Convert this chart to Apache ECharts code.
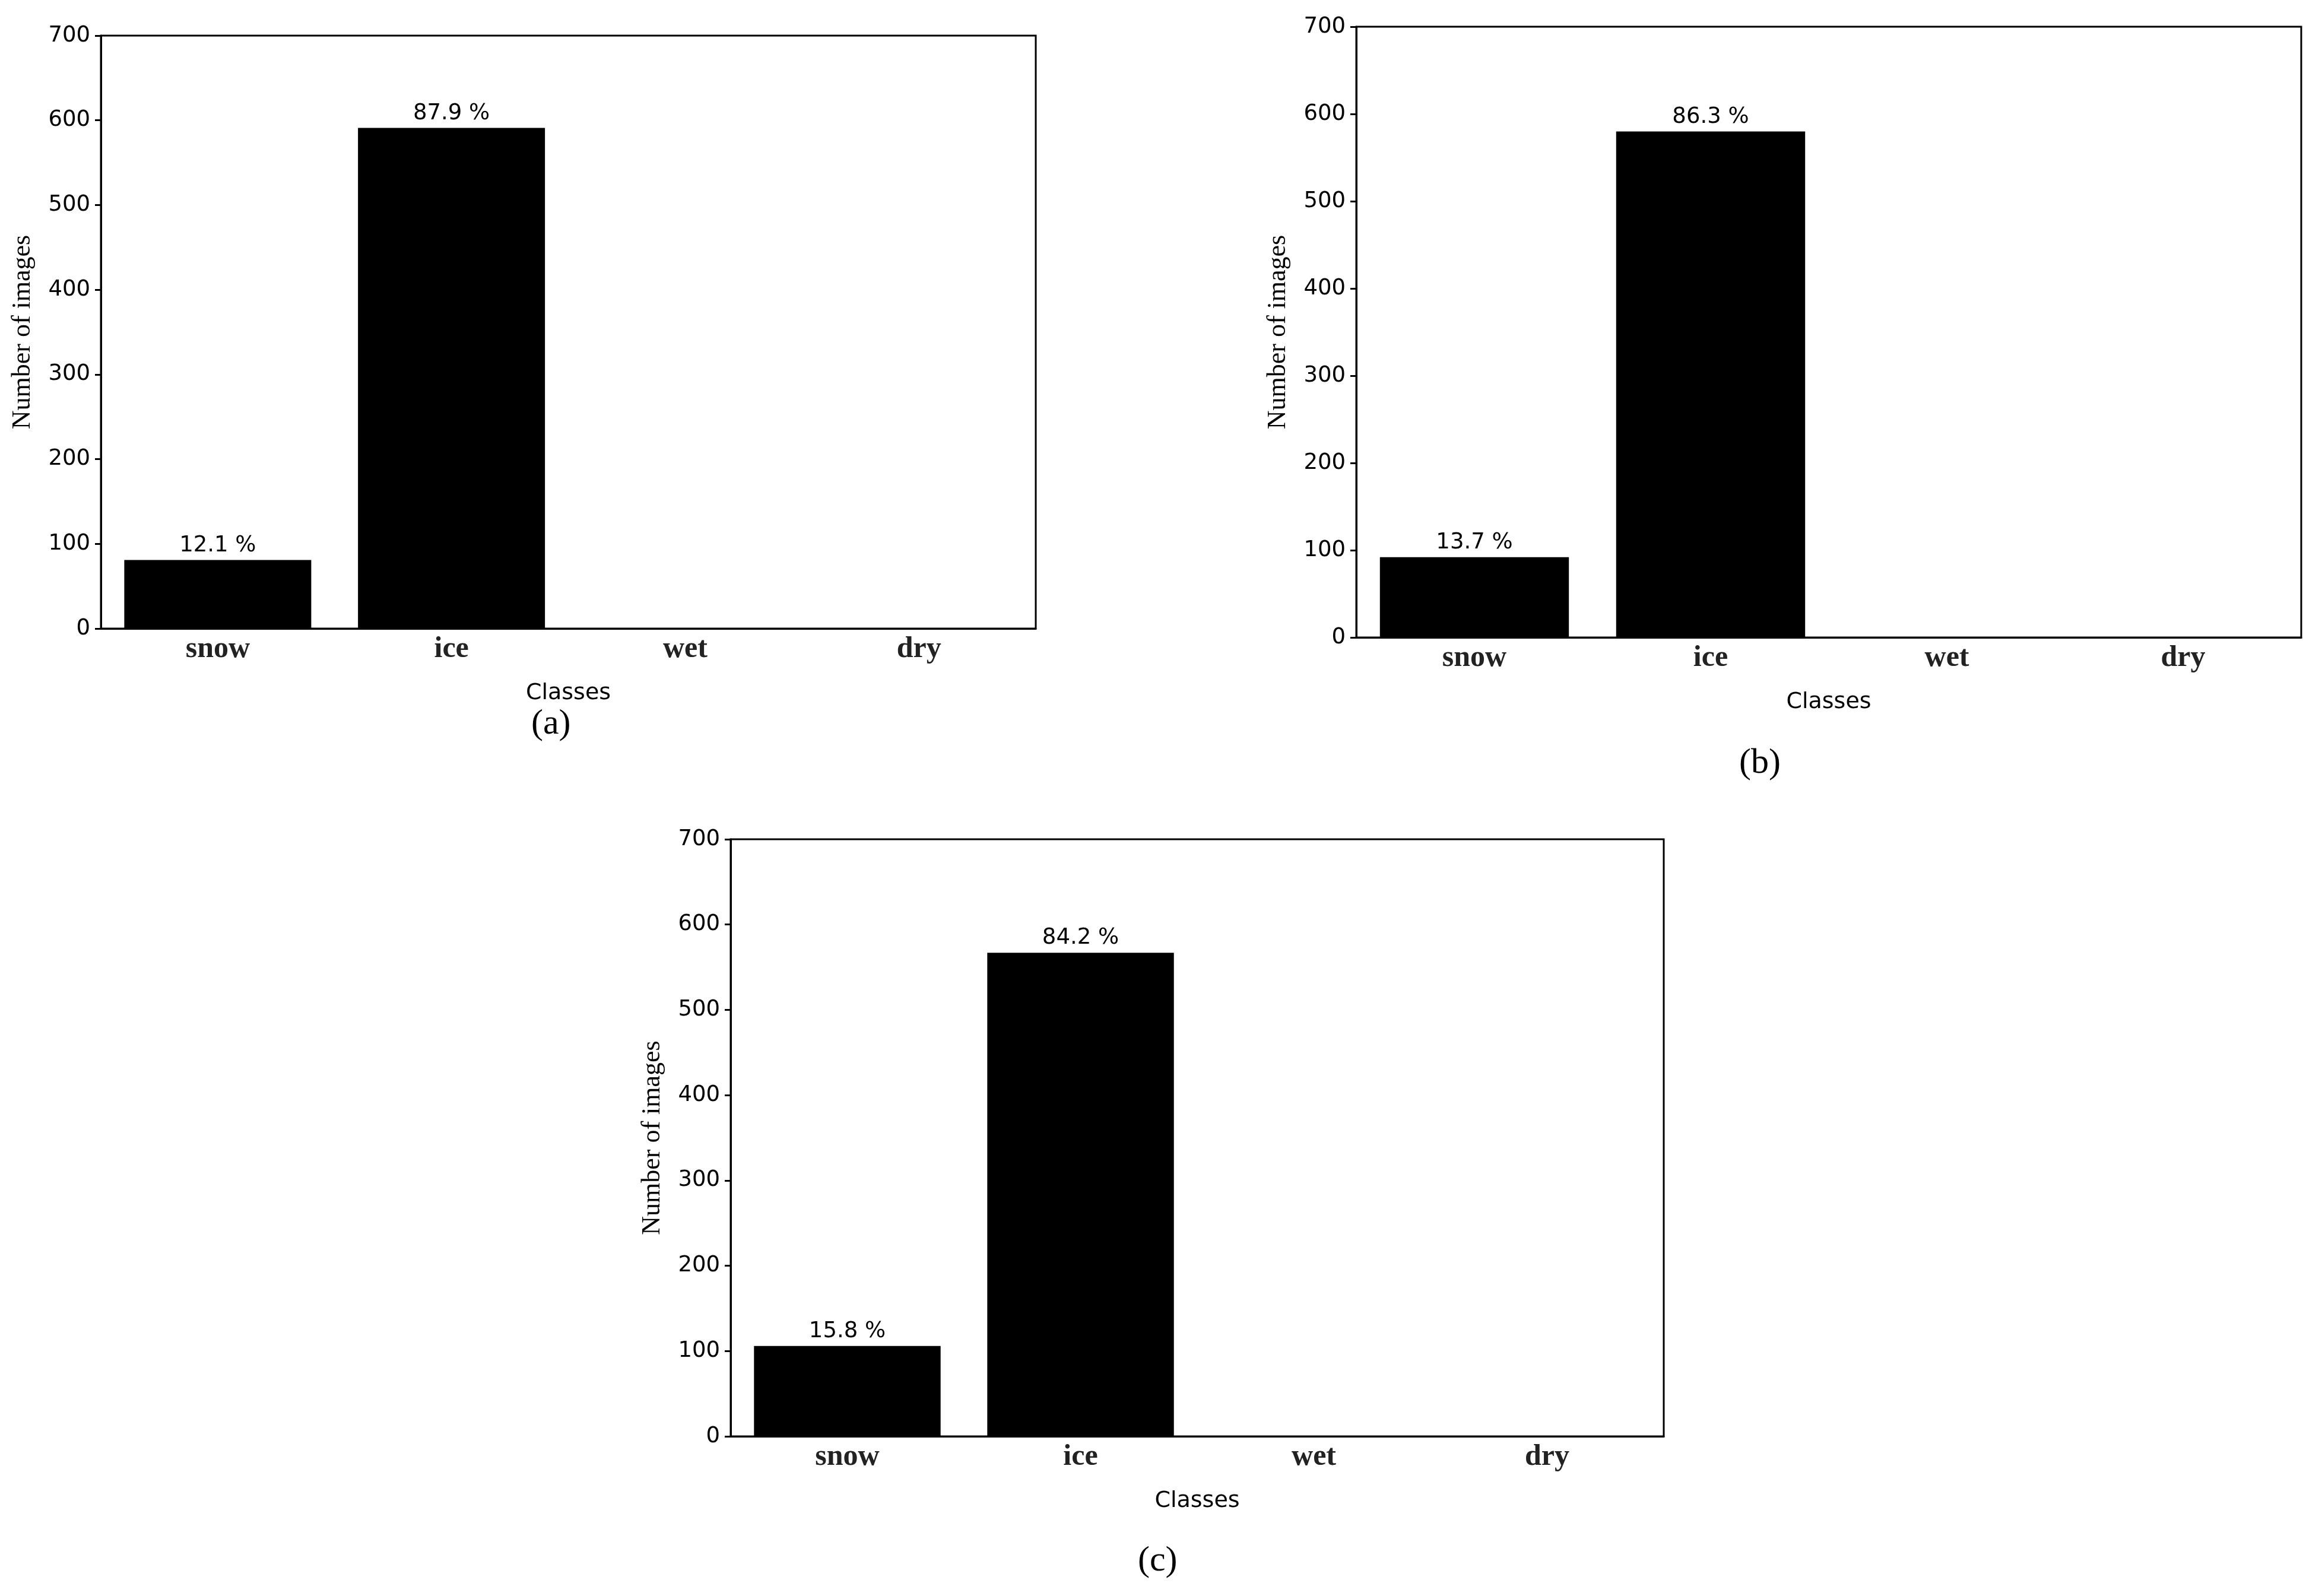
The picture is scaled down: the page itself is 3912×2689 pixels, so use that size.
<!DOCTYPE html>
<html><head><meta charset="utf-8">
<script src="https://cdn.jsdelivr.net/npm/echarts@6/dist/echarts.min.js"></script>
<style>html,body{margin:0;background:#fff}#c{width:3912px;height:2689px}</style>
</head><body><div id="c"></div>
<script>
var classes = ['snow', 'ice', 'wet', 'dry'];
var countsA = [81, 591, 0, 0];
var countsB = [92, 580, 0, 0];
var countsC = [106, 567, 0, 0];
var pctA = ['12.1 %', '87.9 %', '', ''];
var pctB = ['13.7 %', '86.3 %', '', ''];
var pctC = ['15.8 %', '84.2 %', '', ''];
var panelNames = ['(a)', '(b)', '(c)'];

var grids = [
  { left: 170, top: 60, width: 1575, height: 999 },
  { left: 2285, top: 45, width: 1592, height: 1029 },
  { left: 1231, top: 1414, width: 1572, height: 1006 }
];
var data = [countsA, countsB, countsC];
var pcts = [pctA, pctB, pctC];
var labelPos = [[935, 1230], [2970, 1296], [1957, 2640]];

var myChart = echarts.init(document.getElementById('c'));
var option = {
  backgroundColor: '#fff',
  grid: grids.map(function (g) {
    return Object.assign({ show: true, borderColor: '#000', borderWidth: 3, backgroundColor: 'transparent' }, g);
  }),
  xAxis: grids.map(function (g, i) {
    return {
      type: 'category', gridIndex: i, data: classes,
      name: 'Classes', nameLocation: 'middle', nameGap: 90,
      nameTextStyle: { fontFamily: 'DejaVu Sans', fontSize: 38, color: '#000' },
      axisLine: { lineStyle: { color: '#000', width: 3 } },
      axisTick: { show: false },
      axisLabel: { fontFamily: 'Liberation Serif', fontWeight: 'bold', fontSize: 50, color: '#222', margin: 10 }
    };
  }),
  yAxis: grids.map(function (g, i) {
    return {
      type: 'value', gridIndex: i, min: 0, max: 700, interval: 100,
      name: 'Number of images', nameLocation: 'middle', nameGap: 110,
      nameTextStyle: { fontFamily: 'Liberation Serif', fontSize: 44, color: '#000' },
      axisLine: { show: true, lineStyle: { color: '#000', width: 3 } },
      axisTick: { show: true, length: 10, lineStyle: { color: '#000', width: 3 } },
      axisLabel: { fontFamily: 'DejaVu Sans', fontSize: 37, color: '#000', margin: 18 },
      splitLine: { show: false }
    };
  }),
  series: data.map(function (d, i) {
    return {
      type: 'bar', xAxisIndex: i, yAxisIndex: i, data: d, barWidth: '80%',
      itemStyle: { color: '#000' },
      label: {
        show: true, position: 'top', distance: 6,
        fontFamily: 'DejaVu Sans', fontSize: 37, color: '#000',
        formatter: function (p) { return pcts[i][p.dataIndex]; }
      }
    };
  }),
  graphic: labelPos.map(function (p, i) {
    return {
      type: 'text', left: p[0] - 40, top: p[1] - 40,
      style: { text: panelNames[i], font: '60px "Liberation Serif"', fill: '#000' }
    };
  })
};
myChart.setOption(option);
</script>
</body></html>
